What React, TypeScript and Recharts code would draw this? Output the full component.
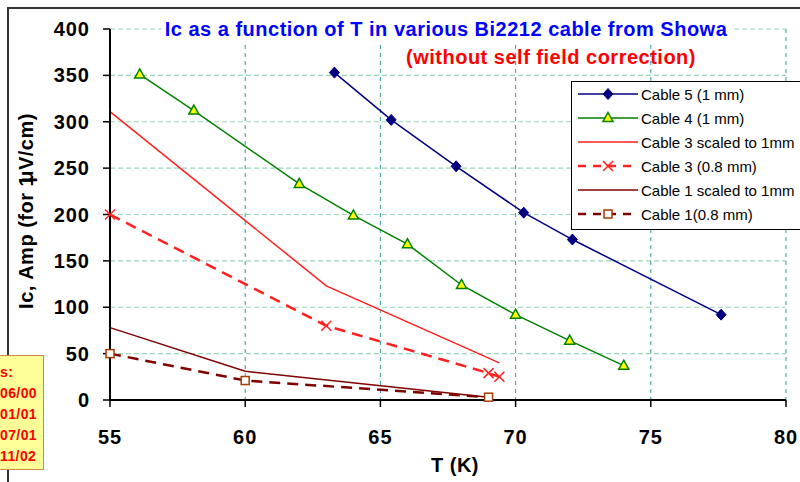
import { LineChart, Line, XAxis, YAxis, CartesianGrid, Legend } from 'recharts'

const FONT = "'Liberation Sans', Arial, sans-serif"

// grid / axis
const X_TICKS = [55, 60, 65, 70, 75, 80]
const Y_TICKS = [0, 50, 100, 150, 200, 250, 300, 350, 400]
const H_GRID = '#9ad4bc'
const V_GRID = '#2f9f9f'

// series
const T_CABLE5 = [63.3, 65.4, 67.8, 70.3, 72.1, 77.6]
const IC_CABLE5 = [353, 302, 252, 202, 173, 92]

const T_CABLE4 = [56.1, 58.1, 62.0, 64.0, 66.0, 68.0, 70.0, 72.0, 74.0]
const IC_CABLE4 = [351, 312, 233, 199, 168, 124, 92, 64, 37]

const T_CABLE3_SCALED = [55, 63, 69.4]
const IC_CABLE3_SCALED = [311, 123, 40]

const T_CABLE3 = [55, 63, 69.0, 69.4]
const IC_CABLE3 = [200, 80, 29, 25]

const T_CABLE1_SCALED = [55, 60, 69]
const IC_CABLE1_SCALED = [78, 31, 3]

const T_CABLE1 = [55, 60, 69]
const IC_CABLE1 = [50, 21, 3]

const DATES = ['s:', '06/00', '01/01', '07/01', '11/02']

const pts = (t: number[], ic: number[]) => t.map((v, i) => ({ t: v, ic: ic[i] }))

type Kind = 'diamond' | 'triangle' | 'cross' | 'square' | null

const SERIES: { name: string; data: any[]; color: string; width: number; dash?: string; marker: Kind }[] = [
  { name: 'Cable 5 (1 mm)', data: pts(T_CABLE5, IC_CABLE5), color: '#000080', width: 1.5, marker: 'diamond' },
  { name: 'Cable 4 (1 mm)', data: pts(T_CABLE4, IC_CABLE4), color: '#008000', width: 1.5, marker: 'triangle' },
  { name: 'Cable 3 scaled to 1mm', data: pts(T_CABLE3_SCALED, IC_CABLE3_SCALED), color: '#ff2020', width: 1.5, marker: null },
  { name: 'Cable 3 (0.8 mm)', data: pts(T_CABLE3, IC_CABLE3), color: '#ff2020', width: 2.5, dash: '11 7', marker: 'cross' },
  { name: 'Cable 1 scaled to 1mm', data: pts(T_CABLE1_SCALED, IC_CABLE1_SCALED), color: '#800000', width: 1.5, marker: null },
  { name: 'Cable 1(0.8 mm)', data: pts(T_CABLE1, IC_CABLE1), color: '#800000', width: 2.5, dash: '11 7', marker: 'square' },
]

function Marker({ cx, cy, kind }: any) {
  if (cx == null || cy == null) return null
  if (kind === 'diamond')
    return <path d={`M${cx},${cy - 5.5}L${cx + 5},${cy}L${cx},${cy + 5.5}L${cx - 5},${cy}Z`} fill="#000080" stroke="#000080" />
  if (kind === 'triangle')
    return <path d={`M${cx},${cy - 5.5}L${cx + 5},${cy + 3.5}L${cx - 5},${cy + 3.5}Z`} fill="#ffff00" stroke="#008000" strokeWidth={1.5} />
  if (kind === 'cross')
    return (
      <g stroke="#ff2020" strokeWidth={1.5}>
        <line x1={cx - 5} y1={cy - 5} x2={cx + 5} y2={cy + 5} />
        <line x1={cx - 5} y1={cy + 5} x2={cx + 5} y2={cy - 5} />
      </g>
    )
  if (kind === 'square')
    return <rect x={cx - 4} y={cy - 4} width={8} height={8} fill="#ffffff" stroke="#a33a00" strokeWidth={1.5} />
  return null
}

function XTick({ x, y, payload }: any) {
  return (
    <text x={x} y={y + 35} textAnchor="middle" fill="#000"
      style={{ fontFamily: FONT, fontSize: 20, fontWeight: 700, letterSpacing: 1 }}>
      {payload.value}
    </text>
  )
}

function YTick({ x, y, payload }: any) {
  return (
    <text x={x - 11} y={y + 7} textAnchor="end" fill="#000"
      style={{ fontFamily: FONT, fontSize: 20, fontWeight: 700, letterSpacing: 1 }}>
      {payload.value}
    </text>
  )
}

function LegendBox() {
  return (
    <div style={{
      width: 240, height: 149, background: '#fff', border: '1px solid #000',
      boxSizing: 'border-box', fontFamily: FONT, fontSize: 15, color: '#000',
    }}>
      {SERIES.map(s => (
        <div key={s.name} style={{ height: 24, display: 'flex', alignItems: 'center', whiteSpace: 'nowrap' }}>
          <svg width={60} height={14} style={{ marginLeft: 6, marginRight: 3, flex: 'none' }}>
            <line x1={0} y1={7} x2={60} y2={7} stroke={s.color} strokeWidth={s.width} strokeDasharray={s.dash ? '8 7' : undefined} />
            <Marker cx={30} cy={7} kind={s.marker} />
          </svg>
          <span>{s.name}</span>
        </div>
      ))}
    </div>
  )
}

export default function App() {
  return (
    <div style={{ position: 'absolute', left: 0, top: 0, width: 800, height: 482, overflow: 'hidden', background: '#fff', fontFamily: FONT }}>
      {/* outer frame, top-left corner */}
      <div style={{ position: 'absolute', left: 7, top: 7, width: 800, height: 500, borderTop: '2px solid #333', borderLeft: '2px solid #333' }} />

      <div style={{ position: 'absolute', left: 0, top: 0 }}>
        <LineChart width={800} height={482} margin={{ top: 29, right: 14, bottom: 52, left: 50 }}>
          <CartesianGrid horizontal vertical={false} stroke={H_GRID} strokeDasharray="5 3" strokeWidth={1.2} />
          <CartesianGrid horizontal={false} vertical stroke={V_GRID} strokeDasharray="4 4" />
          <XAxis dataKey="t" type="number" domain={[55, 80]} ticks={X_TICKS} height={30}
            allowDuplicatedCategory={false}
            axisLine={{ stroke: '#000', strokeWidth: 2 }} tickLine={{ stroke: '#000', strokeWidth: 1.5 }} tickSize={7}
            tick={<XTick />} interval={0} />
          <XAxis xAxisId="top" orientation="top" type="number" domain={[55, 80]} height={0}
            axisLine={{ stroke: '#000', strokeWidth: 1.5 }} tick={false} tickLine={false} />
          <YAxis dataKey="ic" type="number" domain={[0, 400]} ticks={Y_TICKS} width={60}
            axisLine={{ stroke: '#000', strokeWidth: 2 }} tickLine={{ stroke: '#000', strokeWidth: 1.5 }} tickSize={7}
            tick={<YTick />} interval={0} />
          <YAxis yAxisId="right" orientation="right" type="number" domain={[0, 400]} width={0}
            axisLine={{ stroke: '#000', strokeWidth: 1.5 }} tick={false} tickLine={false} />
          {SERIES.map(s => (
            <Line key={s.name} data={s.data} dataKey="ic" name={s.name} type="linear"
              stroke={s.color} strokeWidth={s.width} strokeDasharray={s.dash}
              dot={s.marker ? <Marker kind={s.marker} /> : false} activeDot={false}
              isAnimationActive={false} />
          ))}
          <Legend layout="vertical" align="center" verticalAlign="middle" content={() => <LegendBox />}
            wrapperStyle={{ left: 571, top: 81, width: 240, height: 149 }} />
        </LineChart>
      </div>

      {/* title sitting on the top border */}
      <div style={{
        position: 'absolute', left: 446, top: 17, transform: 'translateX(-50%)', background: '#fff',
        padding: '0 3px', whiteSpace: 'nowrap', color: '#0000ff', fontSize: 20, fontWeight: 700, letterSpacing: 0.5, lineHeight: '24px',
      }}>
        Ic as a function of T in various Bi2212 cable from Showa
      </div>
      <div style={{
        position: 'absolute', left: 551, top: 45, transform: 'translateX(-50%)', whiteSpace: 'nowrap',
        color: '#ff0000', fontSize: 20, fontWeight: 700, letterSpacing: 0.5, lineHeight: '24px',
      }}>
        (without self field correction)
      </div>

      {/* axis titles */}
      <div style={{
        position: 'absolute', left: 26, top: 211, transform: 'translate(-50%, -50%) rotate(-90deg)',
        whiteSpace: 'nowrap', fontSize: 20, fontWeight: 700, letterSpacing: 0.5, color: '#000',
      }}>
        Ic, Amp (for 1<span style={{ marginLeft: -8 }}>μ</span>V/cm)
      </div>
      <div style={{
        position: 'absolute', left: 455, top: 465, transform: 'translate(-50%, -50%)',
        whiteSpace: 'nowrap', fontSize: 20, fontWeight: 700, letterSpacing: 0.5, color: '#000',
      }}>
        T (K)
      </div>

      {/* yellow note box, cut by the left edge */}
      <div style={{
        position: 'absolute', left: -60, top: 355, width: 104, height: 115, background: '#ffff99',
        border: '1px solid #cc8844', boxSizing: 'border-box', paddingTop: 6,
      }}>
        {DATES.map(d => (
          <div key={d} style={{ paddingLeft: 59, height: 21, lineHeight: '21px', color: '#ff0000', fontSize: 14, fontWeight: 700, letterSpacing: 0.4 }}>
            {d}
          </div>
        ))}
      </div>
    </div>
  )
}
